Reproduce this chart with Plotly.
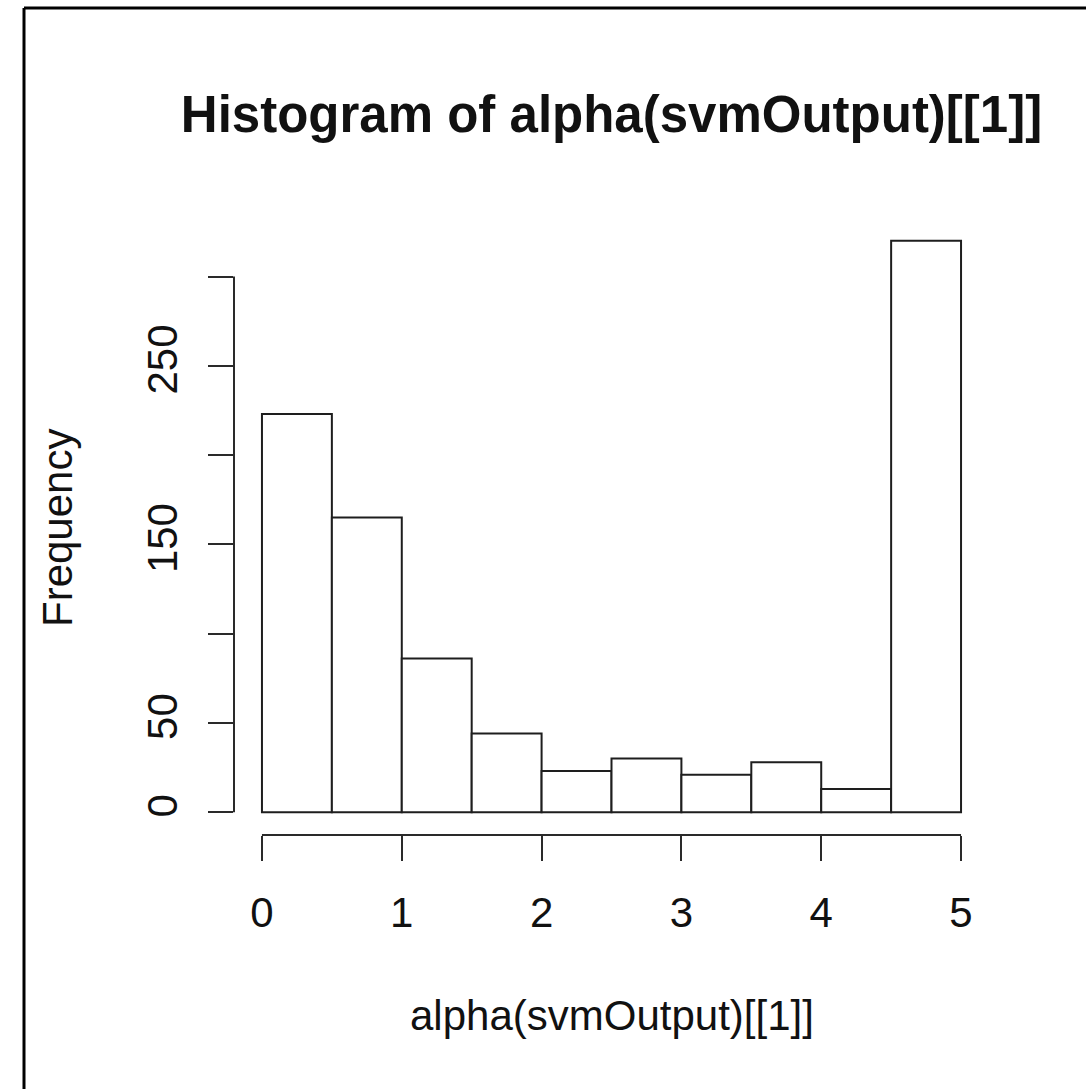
import plotly.graph_objects as go

# Data: histogram bins and counts
bin_edges = [0, 0.5, 1, 1.5, 2, 2.5, 3, 3.5, 4, 4.5, 5]
counts = [223, 165, 86, 44, 23, 30, 21, 28, 13, 320]

x_ticks = [0, 1, 2, 3, 4, 5]
x_ticklabels = ["0", "1", "2", "3", "4", "5"]
y_ticks = [0, 50, 100, 150, 200, 250, 300]
y_ticklabels = ["0", "50", "", "150", "", "250", ""]

title_text = "Histogram of alpha(svmOutput)[[1]]"
x_title = "alpha(svmOutput)[[1]]"
y_title = "Frequency"

centers = [(bin_edges[i] + bin_edges[i + 1]) / 2 for i in range(len(counts))]
widths = [bin_edges[i + 1] - bin_edges[i] for i in range(len(counts))]

W, H = 1086, 1089
ML, MR, MT, MB = 234, 97, 218, 254
PW = W - ML - MR
PH = H - MT - MB

FONT = "Liberation Sans, Arial, Helvetica, sans-serif"
AX = "#2a2a2a"

fig = go.Figure()
fig.add_trace(go.Bar(
    x=centers, y=counts, width=widths,
    marker=dict(color="white", line=dict(color="#1e1e1e", width=2)),
    showlegend=False, hoverinfo="skip",
))

xpad = 0.04 * (bin_edges[-1] - bin_edges[0])
ypad = 0.04 * max(counts)

fig.update_layout(
    width=W, height=H, autosize=False,
    margin=dict(l=ML, r=MR, t=MT, b=MB, pad=0),
    paper_bgcolor="white", plot_bgcolor="white",
    font=dict(family=FONT, color="#111111", size=42),
    title=dict(text=title_text, x=(ML + PW / 2) / W, xanchor="center",
               y=1 - 114 / H, yanchor="middle",
               font=dict(family=FONT, size=51, color="#111111", weight="bold")),
    xaxis=dict(range=[bin_edges[0] - xpad, bin_edges[-1] + xpad],
               tickvals=x_ticks, ticktext=x_ticklabels,
               ticks="outside", ticklen=25, tickwidth=2, tickcolor=AX,
               showgrid=False, zeroline=False, showline=False,
               tickfont=dict(size=42, family=FONT, color="#111111"),
               ticklabelstandoff=16, fixedrange=True),
    yaxis=dict(range=[-ypad, max(counts) + ypad],
               tickvals=y_ticks, ticktext=y_ticklabels,
               ticks="outside", ticklen=25, tickwidth=2, tickcolor=AX,
               tickangle=-90,
               showgrid=False, zeroline=False, showline=False,
               tickfont=dict(size=42, family=FONT, color="#111111"),
               ticklabelstandoff=14, fixedrange=True),
    bargap=0,
)

# R-style axis lines spanning first to last tick
fig.add_shape(type="line", xref="x", yref="paper",
              x0=x_ticks[0], x1=x_ticks[-1], y0=0, y1=0,
              line=dict(color=AX, width=2))
fig.add_shape(type="line", xref="paper", yref="y",
              x0=0, x1=0, y0=y_ticks[0], y1=y_ticks[-1],
              line=dict(color=AX, width=2))

# Frame (top and left edges of the image border)
fx = (24 - ML) / PW
fy = (H - MB - 8) / PH
fig.add_shape(type="line", xref="paper", yref="paper",
              x0=fx, x1=(W - ML) / PW + 0.01, y0=fy, y1=fy,
              line=dict(color="black", width=3))
fig.add_shape(type="line", xref="paper", yref="paper",
              x0=fx, x1=fx, y0=fy, y1=-MB / PH - 0.01,
              line=dict(color="black", width=3))

# Axis titles
fig.add_annotation(text=x_title, xref="paper", yref="paper",
                   x=0.5, y=-(1015 - (H - MB)) / PH,
                   xanchor="center", yanchor="middle", showarrow=False,
                   font=dict(size=42, family=FONT, color="#111111"))
fig.add_annotation(text=y_title, xref="paper", yref="paper",
                   x=(57 - ML) / PW, y=(H - MB - 528) / PH,
                   xanchor="center", yanchor="middle", showarrow=False,
                   textangle=-90,
                   font=dict(size=42, family=FONT, color="#111111"))

fig.write_html("out.html",
               config={"displayModeBar": False, "staticPlot": True},
               post_script="document.body.style.margin='0';document.body.style.overflow='hidden';")
